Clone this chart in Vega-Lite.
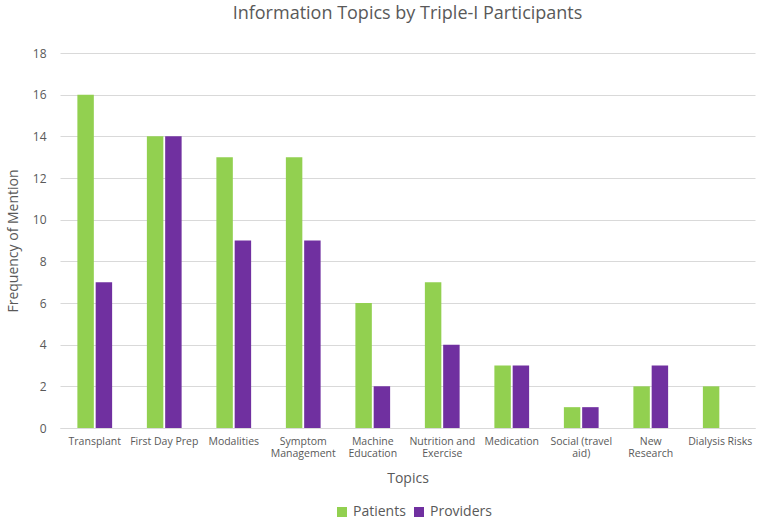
{
  "$schema": "https://vega.github.io/schema/vega-lite/v6.json",
  "width": 695,
  "height": 375,
  "autosize": {"type": "none"},
  "padding": {"left": 60, "top": 53, "right": 4, "bottom": 100},
  "background": "white",
  "title": {"text": "Information Topics by Triple-I Participants", "font": "Open Sans", "fontSize": 18, "fontWeight": "normal", "color": "#595959", "offset": 24, "anchor": "middle"},
  "config": {"view": {"stroke": null}, "font": "Open Sans"},
  "data": {"values": [
    {"topic": "Transplant", "group": "Patients", "count": 16},
    {"topic": "Transplant", "group": "Providers", "count": 7},
    {"topic": "First Day Prep", "group": "Patients", "count": 14},
    {"topic": "First Day Prep", "group": "Providers", "count": 14},
    {"topic": "Modalities", "group": "Patients", "count": 13},
    {"topic": "Modalities", "group": "Providers", "count": 9},
    {"topic": "Symptom Management", "group": "Patients", "count": 13},
    {"topic": "Symptom Management", "group": "Providers", "count": 9},
    {"topic": "Machine Education", "group": "Patients", "count": 6},
    {"topic": "Machine Education", "group": "Providers", "count": 2},
    {"topic": "Nutrition and Exercise", "group": "Patients", "count": 7},
    {"topic": "Nutrition and Exercise", "group": "Providers", "count": 4},
    {"topic": "Medication", "group": "Patients", "count": 3},
    {"topic": "Medication", "group": "Providers", "count": 3},
    {"topic": "Social (travel aid)", "group": "Patients", "count": 1},
    {"topic": "Social (travel aid)", "group": "Providers", "count": 1},
    {"topic": "New Research", "group": "Patients", "count": 2},
    {"topic": "New Research", "group": "Providers", "count": 3},
    {"topic": "Dialysis Risks", "group": "Patients", "count": 2},
    {"topic": "Dialysis Risks", "group": "Providers", "count": 0}
  ]},
  "mark": {"type": "bar"},
  "encoding": {
    "x": {
      "field": "topic", "type": "nominal", "sort": null,
      "scale": {"paddingInner": 0.5, "paddingOuter": 0.25},
      "axis": {
        "title": "Topics", "titleFont": "Open Sans", "titleFontSize": 14, "titleFontWeight": "normal", "titleColor": "#595959", "titlePadding": 12,
        "labelAngle": 0, "labelFontSize": 10.5, "labelColor": "#595959", "labelPadding": 8, "labelLimit": 100,
        "labelExpr": "datum.value == 'Symptom Management' ? ['Symptom', 'Management'] : datum.value == 'Machine Education' ? ['Machine', 'Education'] : datum.value == 'Nutrition and Exercise' ? ['Nutrition and', 'Exercise'] : datum.value == 'Social (travel aid)' ? ['Social (travel', 'aid)'] : datum.value == 'New Research' ? ['New', 'Research'] : datum.value",
        "ticks": false, "domainColor": "#D9D9D9", "grid": false
      }
    },
    "xOffset": {"field": "group", "type": "nominal", "scale": {"paddingInner": 0.1}},
    "y": {
      "field": "count", "type": "quantitative",
      "scale": {"domain": [0, 18]},
      "axis": {
        "title": "Frequency of Mention", "titleFont": "Open Sans", "titleFontSize": 14, "titleFontWeight": "normal", "titleColor": "#595959", "titlePadding": 12,
        "values": [0, 2, 4, 6, 8, 10, 12, 14, 16, 18],
        "labelFontSize": 12, "labelColor": "#595959", "labelPadding": 14,
        "ticks": false, "domain": false, "gridColor": "#D9D9D9"
      }
    },
    "color": {
      "field": "group", "type": "nominal",
      "scale": {"domain": ["Patients", "Providers"], "range": ["#92D050", "#7030A0"]},
      "legend": {"title": null, "orient": "none", "direction": "horizontal", "legendX": 275, "legendY": 452, "labelFontSize": 14, "labelColor": "#595959", "symbolType": "square", "symbolSize": 100, "columnPadding": 6, "labelOffset": 4}
    }
  }
}
